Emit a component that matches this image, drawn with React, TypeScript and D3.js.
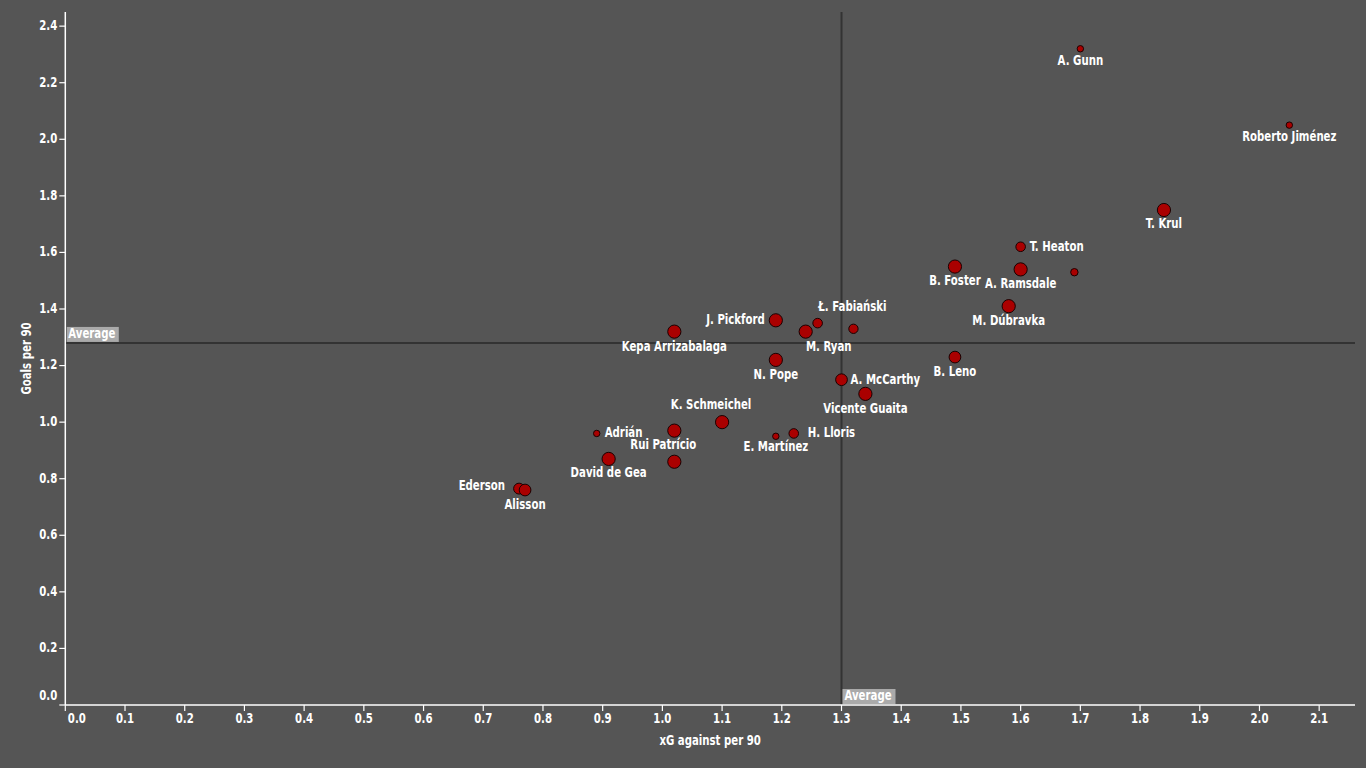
import React from "react";
import * as d3 from "d3";

// ---- data ----
const players: string[] = [
  "A. Gunn", "Roberto Jiménez", "T. Krul", "T. Heaton", "B. Foster", "A. Ramsdale", "",
  "M. Dúbravka", "B. Leno", "J. Pickford", "Kepa Arrizabalaga", "M. Ryan", "",
  "Ł. Fabiański", "N. Pope", "A. McCarthy", "Vicente Guaita", "K. Schmeichel",
  "Rui Patrício", "", "Adrián", "E. Martínez", "H. Lloris", "David de Gea", "Ederson", "Alisson",
];
const xgAgainst: number[] = [
  1.70, 2.05, 1.84, 1.60, 1.49, 1.60, 1.69,
  1.58, 1.49, 1.19, 1.02, 1.24, 1.26,
  1.32, 1.19, 1.30, 1.34, 1.10,
  1.02, 1.02, 0.89, 1.19, 1.22, 0.91, 0.76, 0.77,
];
const goalsPer90: number[] = [
  2.32, 2.05, 1.75, 1.62, 1.55, 1.54, 1.53,
  1.41, 1.23, 1.36, 1.32, 1.32, 1.35,
  1.33, 1.22, 1.15, 1.10, 1.00,
  0.97, 0.86, 0.96, 0.95, 0.96, 0.87, 0.765, 0.76,
];
const appearances: number[] = [
  9, 9, 38, 20, 38, 38, 12,
  38, 30, 38, 38, 38, 20,
  19, 38, 30, 38, 38,
  38, 38, 9, 9, 20, 38, 26, 30,
];
const xTicks: number[] = [0, 0.1, 0.2, 0.3, 0.4, 0.5, 0.6, 0.7, 0.8, 0.9, 1.0, 1.1, 1.2, 1.3, 1.4, 1.5, 1.6, 1.7, 1.8, 1.9, 2.0, 2.1];
const yTicks: number[] = [0, 0.2, 0.4, 0.6, 0.8, 1.0, 1.2, 1.4, 1.6, 1.8, 2.0, 2.2, 2.4];
const avgXg = 1.30;
const avgGoals = 1.28;
const xTitle = "xG against per 90";
const yTitle = "Goals per 90";
const avgText = "Average";

// ---- label layout (relative to the point) ----
type Place = { dx: number; dy: number; anchor: "start" | "middle" | "end" };
const below = (dy: number): Place => ({ dx: 0, dy, anchor: "middle" });
const labelPlace: Record<string, Place> = {
  "A. Gunn": below(12),
  "Roberto Jiménez": below(12),
  "T. Krul": below(14),
  "T. Heaton": { dx: 9, dy: 0, anchor: "start" },
  "B. Foster": below(15),
  "A. Ramsdale": below(15),
  "M. Dúbravka": below(15),
  "B. Leno": below(15),
  "J. Pickford": { dx: -11, dy: 0, anchor: "end" },
  "Kepa Arrizabalaga": below(15),
  "M. Ryan": { dx: 23, dy: 15, anchor: "middle" },
  "Ł. Fabiański": { dx: -1, dy: -22, anchor: "middle" },
  "N. Pope": below(15),
  "A. McCarthy": { dx: 9, dy: 0, anchor: "start" },
  "Vicente Guaita": below(15),
  "K. Schmeichel": { dx: -11, dy: -17, anchor: "middle" },
  "Rui Patrício": { dx: -11, dy: 14, anchor: "middle" },
  "Adrián": { dx: 8, dy: 0, anchor: "start" },
  "E. Martínez": below(11),
  "H. Lloris": { dx: 14, dy: 0, anchor: "start" },
  "David de Gea": below(14),
  "Ederson": { dx: -14, dy: -3, anchor: "end" },
  "Alisson": below(15),
};

const W = 1366;
const H = 768;
const FONT = "'DejaVu Sans Condensed', 'DejaVu Sans', sans-serif";
const BG = "#555555";
const SX = 0.78;

type TProps = {
  x: number;
  y: number;
  anchor?: "start" | "middle" | "end";
  size?: number;
  baseline?: string;
  rotate?: number;
  children: React.ReactNode;
};
function T({ x, y, anchor = "start", size = 14.5, baseline = "middle", rotate = 0, children }: TProps) {
  return (
    <text
      transform={`translate(${x},${y}) rotate(${rotate}) scale(${SX},1)`}
      textAnchor={anchor}
      dominantBaseline={baseline}
      fill="#ffffff"
      fontSize={size}
    >
      {children}
    </text>
  );
}

export default function App() {
  React.useEffect(() => {
    document.body.style.margin = "0";
    document.body.style.background = BG;
  }, []);

  const x = d3.scaleLinear().domain([0, 2.16]).range([65.3, 1355]);
  const y = d3.scaleLinear().domain([0, 2.45]).range([705, 12]);
  const r = d3.scaleSqrt().domain([0, 38]).range([0, 6.6]);
  const fmt = d3.format(".1f");

  const pts = players.map((name, i) => ({
    name,
    cx: x(xgAgainst[i]),
    cy: y(goalsPer90[i]),
    rad: r(appearances[i]),
  }));

  const x0 = x(0);
  const y0 = y(0);

  return (
    <svg width={W} height={H} style={{ display: "block", background: BG }} fontFamily={FONT} fontWeight="bold">
      <rect x={0} y={0} width={W} height={H} fill={BG} />
      {/* average lines */}
      <line x1={x(avgXg)} x2={x(avgXg)} y1={y(2.45)} y2={y0} stroke="#333333" strokeWidth={2} />
      <line x1={x0} x2={x(2.16)} y1={y(avgGoals)} y2={y(avgGoals)} stroke="#333333" strokeWidth={2} />

      {/* x axis */}
      <g>
        <line x1={x0} x2={x(2.16)} y1={y0} y2={y0} stroke="#ffffff" strokeWidth={1.5} />
        {xTicks.map((t, i) => (
          <g key={"xt" + i}>
            <line x1={x(t)} x2={x(t)} y1={y0} y2={y0 + 6} stroke="#ffffff" strokeWidth={1.2} />
            <T x={x(t) + (i === 0 ? 2.5 : 0)} y={y0 + 14} anchor={i === 0 ? "start" : "middle"}>
              {fmt(t)}
            </T>
          </g>
        ))}
        <T x={(x0 + x(2.16)) / 2} y={741} anchor="middle">
          {xTitle}
        </T>
      </g>

      {/* y axis */}
      <g>
        <line x1={x0} x2={x0} y1={y(2.45)} y2={y0} stroke="#ffffff" strokeWidth={1.5} />
        {yTicks.map((t, i) => (
          <g key={"yt" + i}>
            <line x1={x0} x2={x0 - 6} y1={y(t)} y2={y(t)} stroke="#ffffff" strokeWidth={1.2} />
            <T x={x0 - 8} y={y(t) - (i === 0 ? 9 : 0)} anchor="end">
              {fmt(t)}
            </T>
          </g>
        ))}
        <T x={27} y={(y0 + y(2.45)) / 2} anchor="middle" rotate={-90}>
          {yTitle}
        </T>
      </g>

      {/* average labels */}
      <g>
        <rect x={x0 + 1.5} y={y(avgGoals) - 16} width={52} height={15} fill="#aaaaaa" />
        <T x={x0 + 3} y={y(avgGoals) - 8.5}>{avgText}</T>
        <rect x={x(avgXg) + 1} y={y0 - 16} width={53} height={15} fill="#aaaaaa" />
        <T x={x(avgXg) + 3} y={y0 - 8.5}>{avgText}</T>
      </g>

      {/* points */}
      <g>
        {pts.map((p, i) => (
          <circle key={"p" + i} cx={p.cx} cy={p.cy} r={p.rad} fill="#aa0000" stroke="#1a0000" strokeWidth={1} />
        ))}
      </g>

      {/* labels */}
      <g>
        {pts.map((p, i) => {
          if (!p.name) return null;
          const pl = labelPlace[p.name] || below(14);
          return (
            <T key={"l" + i} x={p.cx + pl.dx} y={p.cy + pl.dy} anchor={pl.anchor}>
              {p.name}
            </T>
          );
        })}
      </g>
    </svg>
  );
}
